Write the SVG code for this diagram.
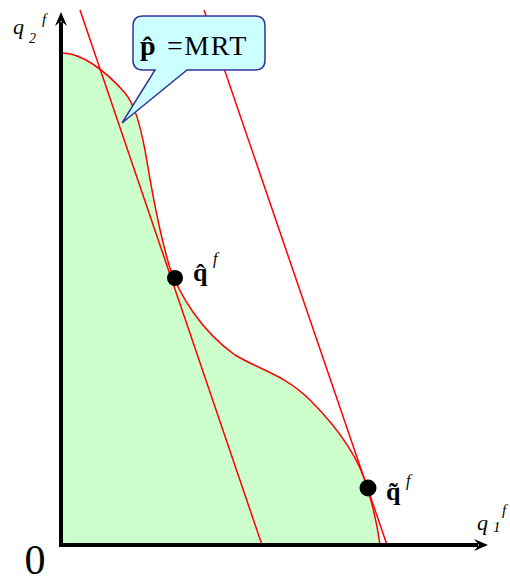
<svg xmlns="http://www.w3.org/2000/svg" width="510" height="582" viewBox="0 0 510 582">
<style>
.red{fill:none;stroke:#ff0000;stroke-width:1.5}
.axis{stroke:#000;stroke-width:4;fill:none}
.t{font-family:"Liberation Serif","Times New Roman",serif;fill:#000}
.i{font-style:italic}
.b{font-weight:bold}
.dot{fill:#000}
</style>
<defs>
<marker id="arr" markerUnits="userSpaceOnUse" viewBox="-5 -7 16 14" markerWidth="16" markerHeight="14" refX="0" refY="0" orient="auto">
<path d="M10,0 L-4,-6 L1,0 L-4,6 Z" fill="#000"/>
</marker>
</defs>
<rect width="510" height="582" fill="#fff"/>
<g id="region">
<path d="M61,53 C80,52 105,70 125,93 C135,105 140,125 145,150 C150,180 158,230 170,268 C180,295 200,330 235,355 C260,370 285,375 310,400 C340,430 360,460 368,490 C374,510 378,530 380,545 L61,545 Z" fill="#ccffcc" stroke="none"/>
<path id="frontier" class="red" d="M61,53 C80,52 105,70 125,93 C135,105 140,125 145,150 C150,180 158,230 170,268 C180,295 200,330 235,355 C260,370 285,375 310,400 C340,430 360,460 368,490 C374,510 378,530 380,545"/>
</g>
<g id="connectors">
<line id="price-line-1" class="red" x1="80" y1="10" x2="262" y2="545"/>
<line id="price-line-2" class="red" x1="204" y1="10" x2="387" y2="545"/>
</g>
<g id="axes">
<line class="axis" x1="61" y1="547" x2="61" y2="22" marker-end="url(#arr)"/>
<line class="axis" x1="59" y1="545" x2="478" y2="545" marker-end="url(#arr)"/>
</g>
<g id="callout">
<path d="M143,16 H255 Q265,16 265,26 V60 Q265,70 255,70 H187 L122,123 L155,70 H143 Q133,70 133,60 V26 Q133,16 143,16 Z" fill="#ccffff" stroke="#333399" stroke-width="1.5"/>
<text class="t"><tspan class="b" x="140" y="55" font-size="28">p̂</tspan><tspan x="167" y="55" font-size="28" letter-spacing="1.5">=MRT</tspan></text>
</g>
<g id="point-hat">
<circle class="dot" cx="175" cy="278" r="8"/>
<text class="t"><tspan class="b" x="193" y="281" font-size="26">q̂</tspan><tspan class="i" x="213" y="264" font-size="16">f</tspan></text>
</g>
<g id="point-tilde">
<circle class="dot" cx="368" cy="488" r="8.5"/>
<text class="t"><tspan class="b" x="386" y="500" font-size="26">q̃</tspan><tspan class="i" x="406" y="486" font-size="16">f</tspan></text>
</g>
<g id="axis-labels">
<text class="t i"><tspan x="13" y="34" font-size="22">q</tspan><tspan x="29" y="43" font-size="14">2</tspan><tspan x="42" y="24" font-size="15">f</tspan></text>
<text class="t i"><tspan x="477" y="530" font-size="22">q</tspan><tspan x="493" y="532" font-size="15">1</tspan><tspan x="502" y="515" font-size="15">f</tspan></text>
<text class="t" x="35" y="574" font-size="42" text-anchor="middle">0</text>
</g>
</svg>
